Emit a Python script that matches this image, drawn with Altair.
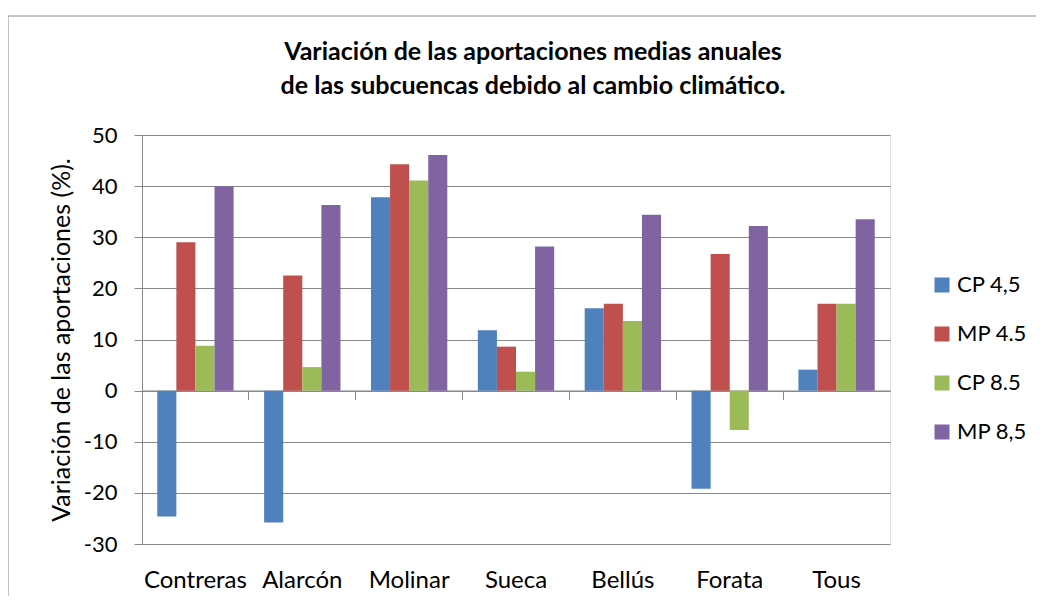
import altair as alt
import pandas as pd

subcuencas = ["Contreras", "Alarcón", "Molinar", "Sueca", "Bellús", "Forata", "Tous"]
series = ["CP 4,5", "MP 4.5", "CP 8.5", "MP 8,5"]
cp45 = [-24.6, -25.8, 37.8, 11.8, 16.1, -19.2, 4.1]
mp45 = [29.0, 22.5, 44.3, 8.6, 17.0, 26.7, 17.0]
cp85 = [8.8, 4.6, 41.1, 3.7, 13.6, -7.7, 17.0]
mp85 = [40.0, 36.3, 46.1, 28.2, 34.4, 32.2, 33.5]
colors = ["#4F81BD", "#C0504D", "#9BBB59", "#8064A2"]
y_ticks = [-30, -20, -10, 0, 10, 20, 30, 40, 50]

rows = []
for s, vals in zip(series, [cp45, mp45, cp85, mp85]):
    for c, v in zip(subcuencas, vals):
        rows.append({"Subcuenca": c, "Serie": s, "Valor": v})
df = pd.DataFrame(rows)

FONT = "Lato"
GRAY = "#888888"
W, H = 748, 409

xscale = alt.Scale(type="band", domain=subcuencas, paddingInner=0, paddingOuter=0)
yscale = alt.Scale(domain=[-30, 50], nice=False, zero=False)

border = alt.Chart(pd.DataFrame({"k": [0]})).mark_rect(
    fill=None, stroke=GRAY, strokeWidth=1
).encode(
    x=alt.value(-134), x2=alt.value(1000), y=alt.value(-119), y2=alt.value(700)
)

bars = alt.Chart(df).mark_bar().encode(
    x=alt.X("Subcuenca:N", scale=xscale, sort=subcuencas,
            axis=alt.Axis(title=None, orient="bottom", domain=False, ticks=False,
                          labelFont=FONT, labelFontSize=24, labelColor="black",
                          labelAngle=0, labelBaseline="alphabetic", labelPadding=43,
                          grid=False)),
    xOffset=alt.XOffset("Serie:N", sort=series,
                        scale=alt.Scale(domain=series, paddingInner=0, paddingOuter=0.8)),
    y=alt.Y("Valor:Q", scale=yscale,
            axis=alt.Axis(values=y_ticks, grid=True, gridColor=GRAY, gridWidth=1,
                          domain=True, domainColor=GRAY, ticks=True, tickColor=GRAY,
                          tickSize=8, labelFont=FONT, labelFontSize=22, labelColor="black",
                          labelPadding=17,
                          labelExpr="replace(datum.label, '\u2212', '-')",
                          title="Variación de las aportaciones (%).",
                          titleFont=FONT, titleFontSize=25, titleFontWeight="normal",
                          titleColor="black", titleAngle=270, titleX=-80.5, titleY=H / 2,
                          titleAlign="center", titleBaseline="middle")),
    color=alt.Color("Serie:N", sort=series,
                    scale=alt.Scale(domain=series, range=colors),
                    legend=alt.Legend(title=None, orient="none", legendX=789, legendY=139,
                                      symbolType="square", symbolSize=225,
                                      symbolStrokeWidth=0, labelFont=FONT, labelFontSize=22,
                                      labelColor="black", labelOffset=4, rowPadding=27,
                                      padding=0)),
)

zero_axis = alt.Chart(df).mark_bar(opacity=0).encode(
    x=alt.X("Subcuenca:N", scale=xscale, sort=subcuencas,
            axis=alt.Axis(title=None, orient="bottom", offset=-(H * 30 / 80),
                          labels=False, domain=True, domainColor=GRAY, domainWidth=1.5,
                          ticks=True, tickColor=GRAY, tickSize=9, bandPosition=0,
                          grid=False)),
    y=alt.datum(0, scale=yscale),
)

chart = alt.layer(border, bars, zero_axis).resolve_axis(x="independent").properties(
    width=W, height=H,
    autosize=alt.AutoSizeParams(type="none"),
    padding={"left": 134, "top": 127, "right": 146, "bottom": 52},
    title=alt.TitleParams(
        text=["Variación de las aportaciones medias anuales",
              "de las subcuencas debido al cambio climático."],
        font=FONT, fontSize=25, fontWeight="bold", color="black",
        anchor="middle", frame="group", dx=17, lineHeight=34, offset=-83,
    ),
).configure_view(stroke=None).configure(background="white")

chart.save("out.html", embed_options={"renderer": "svg", "actions": False})
